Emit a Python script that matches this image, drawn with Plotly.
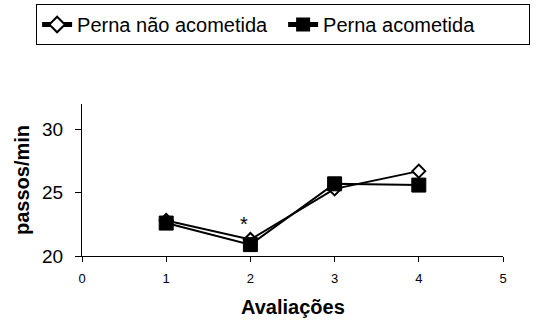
import plotly.graph_objects as go

# Evaluation sessions and cadence (steps per minute) for each leg
avaliacoes = [1, 2, 3, 4]
nao_acometida = [22.8, 21.3, 25.3, 26.7]
acometida = [22.6, 20.9, 25.7, 25.6]

x_ticks = [0, 1, 2, 3, 4, 5]
y_ticks = [20, 25, 30]

FONT = "Liberation Sans, Arial, sans-serif"

fig = go.Figure()
fig.add_trace(go.Scatter(
    x=avaliacoes, y=nao_acometida, name="Perna não acometida",
    mode="lines+markers",
    line=dict(color="black", width=2),
    marker=dict(symbol="diamond", size=10, color="white",
                line=dict(color="black", width=2)),
))
fig.add_trace(go.Scatter(
    x=avaliacoes, y=acometida, name="Perna acometida",
    mode="lines+markers",
    line=dict(color="black", width=2),
    marker=dict(symbol="square", size=14, color="black",
                line=dict(color="black", width=1)),
))

# Significance mark over the second evaluation
fig.add_annotation(x=1.92, y=22.5, text="*", showarrow=False,
                   font=dict(size=20, color="black", family=FONT))

# Axis titles
fig.add_annotation(x=0, y=0.5, xref="paper", yref="paper", xshift=-60,
                   xanchor="center", yanchor="middle",
                   text="<b>passos/min</b>", textangle=-90, showarrow=False,
                   font=dict(size=20, color="black", family=FONT))
fig.add_annotation(x=0.5, y=0, xref="paper", yref="paper", yshift=-51,
                   xanchor="center", yanchor="middle",
                   text="<b>Avaliações</b>", showarrow=False,
                   font=dict(size=20, color="black", family=FONT))

fig.update_layout(
    width=536, height=322,
    margin=dict(l=82, r=33, t=104, b=66, autoexpand=False),
    paper_bgcolor="white", plot_bgcolor="white",
    font=dict(family=FONT, color="black"),
    showlegend=True,
    legend=dict(
        orientation="h", x=-0.109, y=1.658, xanchor="left", yanchor="top",
        bordercolor="black", borderwidth=1, bgcolor="white",
        font=dict(size=20, color="black", family=FONT),
        traceorder="normal", itemsizing="constant",
        entrywidth=201, entrywidthmode="pixels",
    ),
    xaxis=dict(
        range=[0, 5], tickvals=x_ticks, ticks="outside", ticklen=5,
        tickcolor="black", showline=True, linecolor="black", linewidth=1,
        showgrid=False, zeroline=False, ticklabelstandoff=5,
        tickfont=dict(size=13, color="black", family=FONT),
    ),
    yaxis=dict(
        range=[20, 32], tickvals=y_ticks, ticks="outside", ticklen=6,
        tickcolor="black", showline=True, linecolor="black", linewidth=1,
        showgrid=False, zeroline=False, ticklabelstandoff=8,
        tickfont=dict(size=19, color="black", family=FONT),
    ),
)

fig.write_html("out.html")
